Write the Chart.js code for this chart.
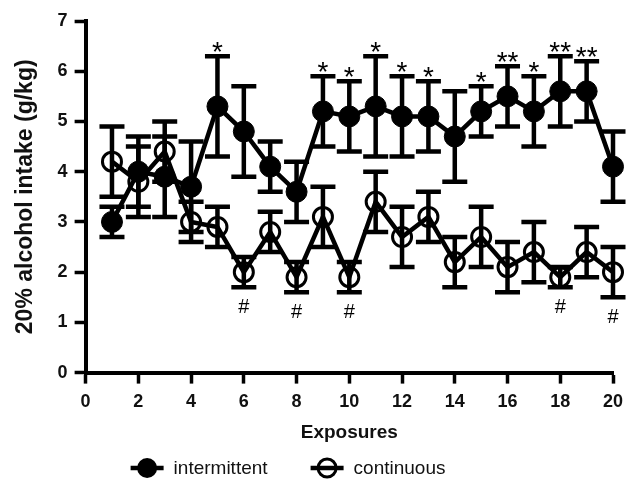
<!DOCTYPE html>
<html>
<head>
<meta charset="utf-8">
<script src="https://cdn.jsdelivr.net/npm/chart.js@4/dist/chart.umd.min.js"></script>
<style>
  html, body { margin: 0; padding: 0; background: #fff; }
  #wrap { width: 633px; height: 480px; }
</style>
</head>
<body>
<div id="wrap"><canvas id="grafico" width="633" height="480"></canvas></div>
<script>
// datos
const exposures = [1, 2, 3, 4, 5, 6, 7, 8, 9, 10, 11, 12, 13, 14, 15, 16, 17, 18, 19, 20];
const intermittent = [3.0, 4.0, 3.9, 3.7, 5.3, 4.8, 4.1, 3.6, 5.2, 5.1, 5.3, 5.1, 5.1, 4.7, 5.2, 5.5, 5.2, 5.6, 5.6, 4.1];
const intermittentErr = [0.3, 0.7, 0.8, 0.9, 1.0, 0.9, 0.5, 0.6, 0.7, 0.7, 1.0, 0.8, 0.7, 0.9, 0.5, 0.6, 0.7, 0.7, 0.6, 0.7];
const continuous = [4.2, 3.8, 4.4, 3.0, 2.9, 2.0, 2.8, 1.9, 3.1, 1.9, 3.4, 2.7, 3.1, 2.2, 2.7, 2.1, 2.4, 1.9, 2.4, 2.0];
const continuousErr = [0.7, 0.7, 0.6, 0.4, 0.4, 0.3, 0.4, 0.3, 0.6, 0.3, 0.6, 0.6, 0.5, 0.5, 0.6, 0.5, 0.6, 0.2, 0.5, 0.5];
const starMarks = ["", "", "", "", "*", "", "", "", "*", "*", "*", "*", "*", "", "*", "**", "*", "**", "**", ""];
const hashMarks = ["", "", "", "", "", "#", "", "#", "", "#", "", "", "", "", "", "", "", "#", "", "#"];
const xTicks = [0, 2, 4, 6, 8, 10, 12, 14, 16, 18, 20];
const yTicks = [0, 1, 2, 3, 4, 5, 6, 7];
const seriesNames = ["intermittent", "continuous"];

const FONT = "'Liberation Sans', Arial, sans-serif";

// barras de error, marcas y leyenda
const extras = {
  id: "extras",
  beforeDatasetsDraw(chart) {
    const { ctx, scales: { x, y } } = chart;
    const series = [[intermittent, intermittentErr], [continuous, continuousErr]];
    ctx.save();
    ctx.strokeStyle = "#000";
    ctx.lineWidth = 4.5;
    ctx.lineCap = "butt";
    series.forEach(([vals, errs]) => {
      vals.forEach((v, i) => {
        const px = x.getPixelForValue(exposures[i]);
        const top = y.getPixelForValue(v + errs[i]);
        const bot = y.getPixelForValue(v - errs[i]);
        ctx.beginPath();
        ctx.moveTo(px, top);
        ctx.lineTo(px, bot);
        ctx.moveTo(px - 12.5, top);
        ctx.lineTo(px + 12.5, top);
        ctx.moveTo(px - 12.5, bot);
        ctx.lineTo(px + 12.5, bot);
        ctx.stroke();
      });
    });
    ctx.restore();
  },
  afterDatasetsDraw(chart) {
    const { ctx, scales: { x, y } } = chart;
    ctx.save();
    ctx.fillStyle = "#000";
    ctx.textAlign = "center";
    ctx.textBaseline = "alphabetic";
    ctx.font = "28px " + FONT;
    starMarks.forEach((m, i) => {
      if (!m) return;
      const px = x.getPixelForValue(exposures[i]);
      const top = y.getPixelForValue(intermittent[i] + intermittentErr[i]);
      ctx.fillText(m, px, top + 5);
    });
    ctx.font = "20px " + FONT;
    hashMarks.forEach((m, i) => {
      if (!m) return;
      const px = x.getPixelForValue(exposures[i]);
      const bot = y.getPixelForValue(continuous[i] - continuousErr[i]);
      ctx.fillText(m, px, bot + 26);
    });
    ctx.restore();
  },
  afterDraw(chart) {
    const { ctx, chartArea } = chart;
    const ly = 468;
    let lx = chartArea.left + 45;
    ctx.save();
    ctx.font = "19px " + FONT;
    ctx.textBaseline = "middle";
    ctx.textAlign = "left";
    seriesNames.forEach((name, i) => {
      ctx.strokeStyle = "#000";
      ctx.lineWidth = 4.5;
      ctx.beginPath();
      ctx.moveTo(lx, ly);
      ctx.lineTo(lx + 33, ly);
      ctx.stroke();
      ctx.beginPath();
      if (i === 0) {
        ctx.arc(lx + 16.5, ly, 10, 0, Math.PI * 2);
        ctx.fillStyle = "#000";
        ctx.fill();
      } else {
        ctx.arc(lx + 16.5, ly, 9, 0, Math.PI * 2);
        ctx.lineWidth = 3;
        ctx.stroke();
      }
      ctx.fillStyle = "#111";
      ctx.fillText(name, lx + 43, ly + 1);
      lx += 43 + ctx.measureText(name).width + 43;
    });
    ctx.restore();
  }
};

new Chart(document.getElementById("grafico"), {
  type: "line",
  data: {
    datasets: [
      {
        label: seriesNames[0],
        data: exposures.map((e, i) => ({ x: e, y: intermittent[i] })),
        borderColor: "#000",
        backgroundColor: "#000",
        borderWidth: 4.5,
        pointRadius: 10.5,
        pointBorderWidth: 1,
        pointBackgroundColor: "#000",
        pointBorderColor: "#000",
        clip: false
      },
      {
        label: seriesNames[1],
        data: exposures.map((e, i) => ({ x: e, y: continuous[i] })),
        borderColor: "#000",
        backgroundColor: "rgba(0,0,0,0)",
        borderWidth: 4.5,
        pointRadius: 9.5,
        pointBorderWidth: 3,
        pointBackgroundColor: "rgba(0,0,0,0)",
        pointBorderColor: "#000",
        clip: false
      }
    ]
  },
  options: {
    responsive: false,
    animation: false,
    layout: { padding: { top: 21, right: 20, left: 12, bottom: 36 } },
    plugins: {
      tooltip: { enabled: false },
      legend: { display: false }
    },
    scales: {
      x: {
        type: "linear",
        min: 0,
        max: 20,
        afterBuildTicks(axis) { axis.ticks = xTicks.map(v => ({ value: v })); },
        ticks: { color: "#111", font: { family: FONT, size: 18, weight: "bold" }, padding: 8, maxRotation: 0 },
        grid: { drawOnChartArea: false, tickLength: 11, tickWidth: 3.5, tickColor: "#000" },
        border: { width: 4, color: "#000" },
        title: {
          display: true,
          text: "Exposures",
          color: "#111",
          font: { family: FONT, size: 19, weight: "bold" },
          padding: { top: 0, bottom: 0 }
        }
      },
      y: {
        min: 0,
        max: 7,
        afterBuildTicks(axis) { axis.ticks = yTicks.map(v => ({ value: v })); },
        ticks: { color: "#111", font: { family: FONT, size: 18, weight: "bold" }, padding: 7 },
        grid: { drawOnChartArea: false, tickLength: 11, tickWidth: 3.5, tickColor: "#000" },
        border: { width: 4, color: "#000" },
        title: {
          display: true,
          text: "20% alcohol intake (g/kg)",
          color: "#111",
          font: { family: FONT, size: 23, weight: "bold" },
          padding: { top: 0, bottom: 11 }
        }
      }
    }
  },
  plugins: [extras]
});
</script>
</body>
</html>
